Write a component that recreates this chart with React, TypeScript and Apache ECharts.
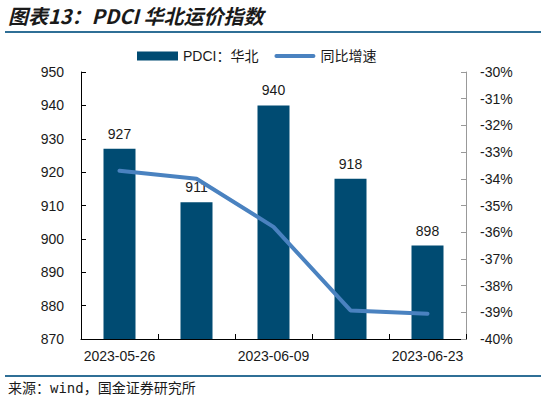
import React, { useEffect, useRef } from "react";
import * as echarts from "echarts";

const categories = ["2023-05-26", "2023-06-02", "2023-06-09", "2023-06-16", "2023-06-23"];
const pdciValues = [927, 911, 940, 918, 898];
const yoyValues = [-33.7, -34.0, -35.8, -38.93, -39.05];

const FONT = "'Liberation Sans', Arial, 'Noto Sans CJK SC', sans-serif";

export default function App() {
  const ref = useRef<HTMLDivElement>(null);
  useEffect(() => {
    document.body.style.margin = "0";
    const chart = echarts.init(ref.current!, null, { renderer: "svg" });
    chart.setOption({
      animation: false,
      backgroundColor: "#ffffff",
      textStyle: { fontFamily: FONT },
      graphic: {
        elements: [
          {
            type: "text",
            left: 8,
            top: 5,
            style: {
              text: "图表13：PDCI 华北运价指数",
              font: "italic bold 20px 'Noto Sans CJK SC', sans-serif",
              fill: "#1a1a1a",
            },
          },
          {
            type: "rect",
            x: 5,
            y: 31,
            shape: { x: 0, y: 0, width: 536, height: 2 },
            style: { fill: "#2f6f96" },
          },
          {
            type: "rect",
            x: 5,
            y: 375,
            shape: { x: 0, y: 0, width: 536, height: 2 },
            style: { fill: "#2f6f96" },
          },
          {
            type: "text",
            left: 8,
            top: 381,
            style: {
              text: "来源：wind，国金证券研究所",
              font: "14px 'DejaVu Sans Mono', 'Noto Sans CJK SC', monospace",
              fill: "#1a1a1a",
            },
          },
        ],
      },
      legend: {
        left: 132,
        top: 44,
        itemWidth: 41,
        itemHeight: 9,
        itemGap: 16,
        textStyle: { fontSize: 14, color: "#1a1a1a", fontFamily: FONT },
        data: [
          { name: "PDCI：华北", icon: "rect" },
          { name: "同比增速", icon: "path://M2,0 L39,0 A2,2 0 0 1 39,4 L2,4 A2,2 0 0 1 2,0 Z" },
        ],
      },
      grid: { left: 81, right: 75, top: 72, bottom: 65 },
      xAxis: {
        type: "category",
        data: categories,
        boundaryGap: true,
        axisLine: { lineStyle: { color: "#000000", width: 1 } },
        axisTick: { show: true, inside: true, interval: 0, length: 5, lineStyle: { color: "#000000" } },
        axisLabel: { interval: 1, fontSize: 14, color: "#1a1a1a", margin: 10, fontFamily: FONT },
        splitLine: { show: false },
      },
      yAxis: [
        {
          type: "value",
          min: 870,
          max: 950,
          interval: 10,
          axisLine: { show: true, lineStyle: { color: "#000000" } },
          axisTick: { show: true, inside: true, length: 5, lineStyle: { color: "#000000" } },
          axisLabel: { fontSize: 14, color: "#1a1a1a", margin: 17, fontFamily: FONT },
          splitLine: { show: false },
        },
        {
          type: "value",
          min: -40,
          max: -30,
          interval: 1,
          position: "right",
          axisLine: { show: true, lineStyle: { color: "#999999" } },
          axisTick: { show: true, inside: true, length: 5, lineStyle: { color: "#999999" } },
          axisLabel: { fontSize: 14, color: "#1a1a1a", margin: 14, formatter: (v: number) => `${v}%`, fontFamily: FONT },
          splitLine: { show: false },
        },
      ],
      series: [
        {
          name: "PDCI：华北",
          type: "bar",
          data: pdciValues,
          barWidth: 32,
          itemStyle: { color: "#004b72" },
          label: { show: true, position: "top", distance: 8, fontSize: 14, color: "#1a1a1a", fontFamily: FONT },
        },
        {
          name: "同比增速",
          type: "line",
          yAxisIndex: 1,
          data: yoyValues,
          symbol: "none",
          lineStyle: { color: "#4a82c0", width: 4, cap: "round" },
          itemStyle: { color: "#4a82c0" },
        },
      ],
    });
    return () => chart.dispose();
  }, []);
  return <div ref={ref} style={{ width: 541, height: 404 }} />;
}
